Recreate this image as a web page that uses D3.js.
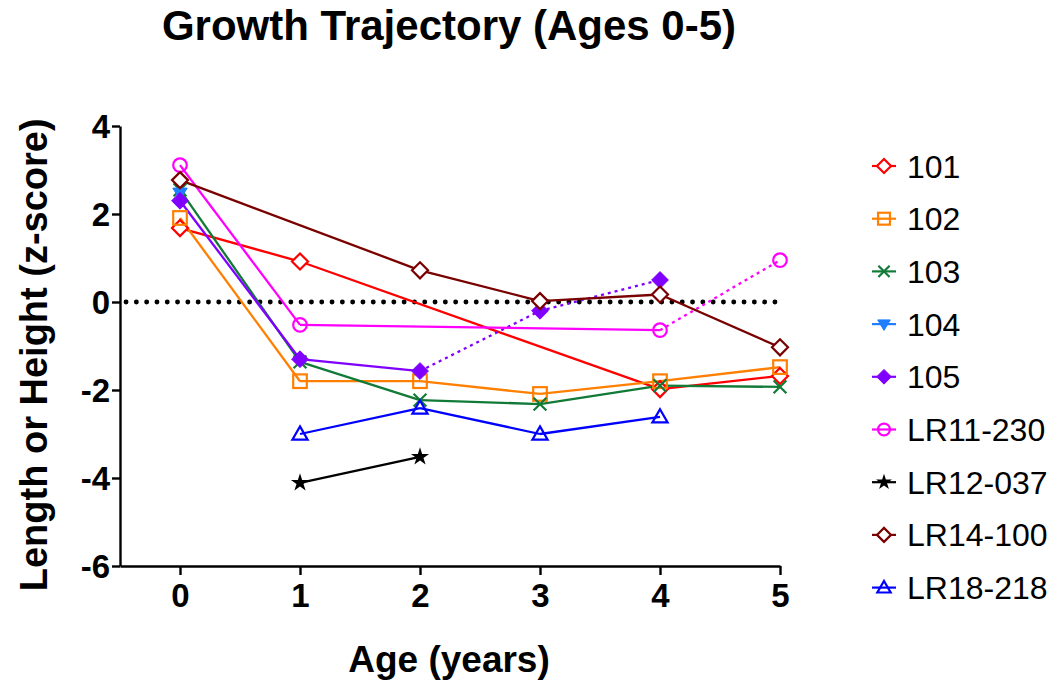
<!DOCTYPE html>
<html>
<head>
<meta charset="utf-8">
<script src="https://cdn.jsdelivr.net/npm/d3@7"></script>
<style>
  html, body { margin: 0; padding: 0; background: #fff; }
  svg { display: block; }
  text { font-family: "Liberation Sans", Arial, sans-serif; }
</style>
</head>
<body>
<svg id="chart" width="1050" height="683"></svg>
<script>
// ---- Data ----
const ages = [0, 1, 2, 3, 4, 5];
const seriesNames = ["101", "102", "103", "104", "105", "LR11-230", "LR12-037", "LR14-100", "LR18-218"];
const s101     = [1.68, 0.92, null, null, -1.98, -1.68];
const s102     = [1.91, -1.80, -1.80, -2.09, -1.80, -1.48];
const s103     = [2.55, -1.36, -2.23, -2.32, -1.90, -1.93];
const s104     = [2.48, null, null, null, null, null];
const s105     = [2.30, -1.30, -1.57, -0.20, 0.50, null];
const sLR11230 = [3.11, -0.52, null, null, -0.64, 0.95];
const sLR12037 = [null, -4.11, -3.52, null, null, null];
const sLR14100 = [2.77, null, 0.72, 0.02, 0.17, -1.03];
const sLR18218 = [null, -3.00, -2.41, -3.00, -2.61, null];
const seriesValues = [s101, s102, s103, s104, s105, sLR11230, sLR12037, sLR14100, sLR18218];
// segments drawn dotted: [seriesIndex, fromAge, toAge]
const dottedSegments = [[4, 2, 3], [4, 3, 4], [5, 4, 5]];
const yTicks = [-6, -4, -2, 0, 2, 4];
const xTicks = [0, 1, 2, 3, 4, 5];

const colors = ["#FF0000", "#FF7F00", "#117A37", "#1E7FFF", "#7F00FF", "#FF00FF", "#000000", "#7A0000", "#0000FF"];
const markers = ["diamondOpen", "squareOpen", "cross", "triDownFilled", "diamondFilled", "circleOpen", "star", "diamondOpen", "triUpOpen"];

// ---- Layout ----
const svg = d3.select("#chart");
const x = d3.scaleLinear().domain([-0.5, 5]).range([120, 780]);
const y = d3.scaleLinear().domain([-6, 4]).range([566, 126]);
const fmt = d => String(d); // hyphen-minus like the reference

// Title
svg.append("text").attr("x", 449).attr("y", 40).attr("text-anchor", "middle")
  .attr("font-size", 42).attr("font-weight", "bold").text("Growth Trajectory (Ages 0-5)");

// Axes
const yAxis = svg.append("g").attr("transform", `translate(${x(-0.5)},0)`)
  .call(d3.axisLeft(y).tickValues(yTicks).tickSize(8).tickSizeOuter(0).tickPadding(2).tickFormat(fmt));
const xAxis = svg.append("g").attr("transform", `translate(0,${y(-6)})`)
  .call(d3.axisBottom(x).tickValues(xTicks).tickSize(9).tickSizeOuter(0).tickPadding(9).tickFormat(fmt));
[yAxis, xAxis].forEach(g => {
  g.select(".domain").attr("stroke", "#000").attr("stroke-width", 2.4);
  g.selectAll(".tick line").attr("stroke", "#000").attr("stroke-width", 2.4);
  g.selectAll(".tick text").attr("font-size", 33).attr("font-weight", "bold").attr("fill", "#000")
    .attr("font-family", "'Liberation Sans', Arial, sans-serif");
});
yAxis.selectAll(".tick text").attr("dy", "0.36em");

// Axis titles
svg.append("text").attr("transform", `translate(47,${y(-1.2)}) rotate(-90)`).attr("text-anchor", "middle")
  .attr("font-size", 38).attr("font-weight", "bold").text("Length or Height (z-score)");
svg.append("text").attr("x", 449).attr("y", 672).attr("text-anchor", "middle")
  .attr("font-size", 37).attr("font-weight", "bold").text("Age (years)");

// Zero reference line
svg.append("line").attr("x1", x(-0.5) + 6).attr("x2", x(5)).attr("y1", y(0)).attr("y2", y(0))
  .attr("stroke", "#000").attr("stroke-width", 4.8).attr("stroke-linecap", "round")
  .attr("stroke-dasharray", "0.1,10.2");

// Marker drawing
function drawMarker(g, type, color, cx, cy, s) {
  const m = g.append("g").attr("transform", `translate(${cx},${cy})`);
  const sw = 2.2;
  switch (type) {
    case "diamondOpen":
      m.append("path").attr("d", `M0,${-s}L${s},0L0,${s}L${-s},0Z`).attr("fill", "#fff").attr("stroke", color).attr("stroke-width", sw);
      break;
    case "diamondFilled":
      m.append("path").attr("d", `M0,${-s*1.05}L${s*1.05},0L0,${s*1.05}L${-s*1.05},0Z`).attr("fill", color).attr("stroke", color).attr("stroke-width", 1);
      break;
    case "squareOpen":
      m.append("rect").attr("x", -s*0.85).attr("y", -s*0.85).attr("width", s*1.7).attr("height", s*1.7).attr("fill", "none").attr("stroke", color).attr("stroke-width", sw);
      break;
    case "cross":
      m.append("path").attr("d", `M${-s*0.8},${-s*0.8}L${s*0.8},${s*0.8}M${-s*0.8},${s*0.8}L${s*0.8},${-s*0.8}`).attr("stroke", color).attr("stroke-width", sw);
      break;
    case "triDownFilled":
      m.append("path").attr("d", `M${-s*0.9},${-s*0.6}L${s*0.9},${-s*0.6}L0,${s*0.9}Z`).attr("fill", color).attr("stroke", color).attr("stroke-width", 1);
      break;
    case "triUpOpen":
      m.append("path").attr("d", `M0,${-s*0.95}L${s*0.95},${s*0.7}L${-s*0.95},${s*0.7}Z`).attr("fill", "none").attr("stroke", color).attr("stroke-width", sw);
      break;
    case "circleOpen":
      m.append("circle").attr("r", s*0.85).attr("fill", "none").attr("stroke", color).attr("stroke-width", sw);
      break;
    case "star":
      m.append("path").attr("d", d3.symbol().type(d3.symbolStar).size(s*s*1.6)()).attr("fill", color);
      break;
  }
}

// Series lines (segment by segment between consecutive defined points)
const plot = svg.append("g");
const line = d3.line().x(d => x(d[0])).y(d => y(d[1]));
seriesValues.forEach((vals, si) => {
  const pts = ages.map((a, i) => [a, vals[i]]).filter(d => d[1] !== null);
  for (let k = 0; k < pts.length - 1; k++) {
    const dotted = dottedSegments.some(ds => ds[0] === si && ds[1] === pts[k][0] && ds[2] === pts[k + 1][0]);
    plot.append("path").attr("d", line([pts[k], pts[k + 1]])).attr("fill", "none")
      .attr("stroke", colors[si]).attr("stroke-width", 2.3)
      .attr("stroke-dasharray", dotted ? "3,4" : null);
  }
});
// markers
seriesValues.forEach((vals, si) => {
  ages.forEach((a, i) => {
    if (vals[i] !== null) drawMarker(plot, markers[si], colors[si], x(a), y(vals[i]), 8);
  });
});

// Legend
const legend = svg.append("g");
seriesNames.forEach((name, i) => {
  const ly = 166 + i * 52.7;
  legend.append("line").attr("x1", 872).attr("x2", 896).attr("y1", ly).attr("y2", ly)
    .attr("stroke", colors[i]).attr("stroke-width", 2.2);
  drawMarker(legend, markers[i], colors[i], 884, ly, 7);
  legend.append("text").attr("x", 907).attr("y", ly).attr("dy", "0.36em")
    .attr("font-size", 32).attr("fill", "#000").text(name);
});
</script>
</body>
</html>
